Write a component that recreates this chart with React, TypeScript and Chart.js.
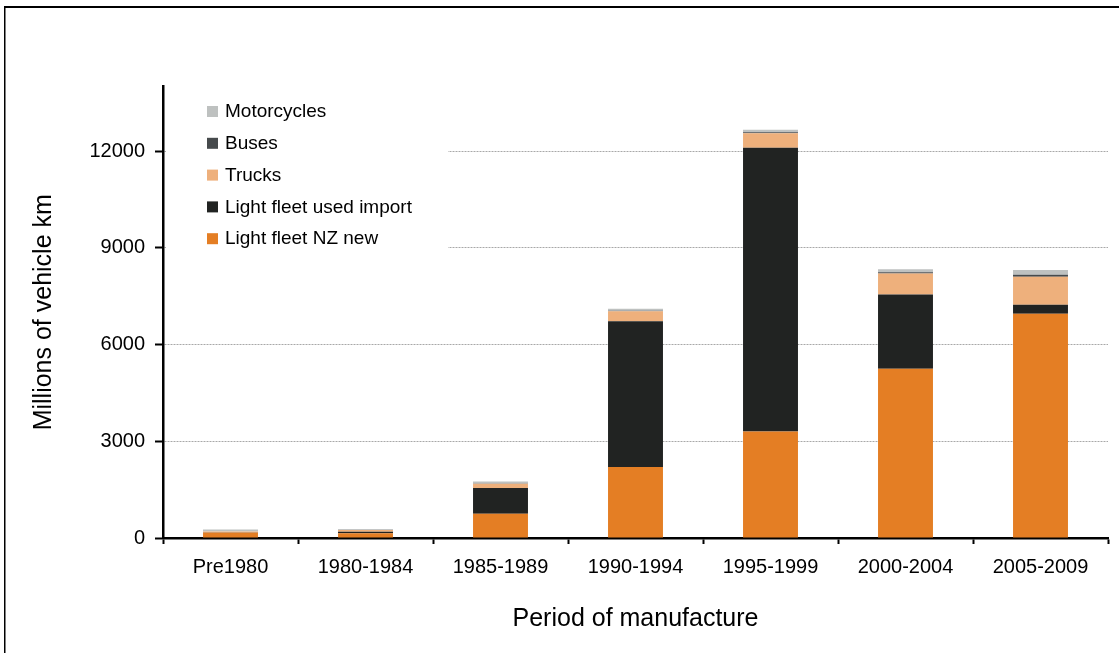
import React, { useEffect, useRef } from "react";
import { Chart, registerables } from "chart.js";

Chart.register(...registerables);

const categories = ["Pre1980", "1980-1984", "1985-1989", "1990-1994", "1995-1999", "2000-2004", "2005-2009"];
const nzNew = [170, 150, 750, 2200, 3300, 5250, 6950];
const usedImport = [10, 40, 800, 4520, 8800, 2300, 280];
const trucks = [20, 60, 130, 310, 450, 650, 870];
const buses = [5, 5, 10, 20, 30, 40, 60];
const motorcycles = [60, 10, 60, 60, 80, 90, 150];

const seriesNames = ["Light fleet NZ new", "Light fleet used import", "Trucks", "Buses", "Motorcycles"];
const seriesColors = ["#E47E24", "#212322", "#EEB07C", "#464A4C", "#BEC1C0"];
const yTickValues = [0, 3000, 6000, 9000, 12000];

const FONT = "'Liberation Sans', Arial, sans-serif";

const framePlugin = {
  id: "frame",
  beforeDraw(chart: any) {
    const ctx = chart.ctx;
    ctx.save();
    ctx.fillStyle = "#ffffff";
    ctx.fillRect(0, 0, chart.width, chart.height);
    ctx.fillStyle = "#000000";
    ctx.fillRect(4, 6, chart.width - 4, 2);
    ctx.fillRect(4, 6, 1.5, chart.height - 6);
    ctx.restore();
  },
};

const legendPlugin = {
  id: "customLegend",
  beforeDatasetsDraw(chart: any) {
    const ctx = chart.ctx;
    ctx.save();
    ctx.fillStyle = "#ffffff";
    ctx.fillRect(166, 90, 282, 170);
    const order = [4, 3, 2, 1, 0];
    ctx.font = `19px ${FONT}`;
    ctx.textBaseline = "middle";
    ctx.textAlign = "left";
    order.forEach((idx, i) => {
      const cy = 111 + i * 31.8;
      ctx.fillStyle = seriesColors[idx];
      ctx.fillRect(207, cy - 5, 11, 11);
      ctx.fillStyle = "#000000";
      ctx.fillText(seriesNames[idx], 225, cy + 1);
    });
    ctx.restore();
  },
};

export default function App() {
  const canvasRef = useRef<HTMLCanvasElement | null>(null);

  useEffect(() => {
    document.body.style.margin = "0";
    const canvas = canvasRef.current;
    if (!canvas) return;
    const dataArrays = [nzNew, usedImport, trucks, buses, motorcycles];
    const chart = new Chart(canvas, {
      type: "bar",
      data: {
        labels: categories,
        datasets: dataArrays.map((d, i) => ({
          label: seriesNames[i],
          data: d,
          backgroundColor: seriesColors[i],
          borderWidth: 0,
          categoryPercentage: 1,
          barPercentage: 0.407,
        })),
      },
      options: {
        responsive: false,
        animation: false,
        devicePixelRatio: 1,
        layout: { padding: { top: 86.5, right: 11, left: 0, bottom: 0 } },
        plugins: {
          legend: { display: false },
          tooltip: { enabled: false },
        },
        scales: {
          x: {
            stacked: true,
            offset: true,
            grid: {
              display: true,
              drawOnChartArea: false,
              drawTicks: true,
              tickLength: 6,
              tickColor: "#000000",
              tickWidth: 2,
              offset: true,
            },
            border: { display: true, color: "#000000", width: 2.5 },
            ticks: {
              color: "#000000",
              font: { family: FONT, size: 20 },
              padding: 11,
              maxRotation: 0,
            },
            title: {
              display: true,
              text: "Period of manufacture",
              color: "#000000",
              font: { family: FONT, size: 25 },
              padding: { top: 0, bottom: 19 },
            },
            afterFit(scale: any) {
              scale.height = 115;
            },
          },
          y: {
            stacked: true,
            min: 0,
            max: 14000,
            afterBuildTicks(scale: any) {
              scale.ticks = yTickValues.map((v) => ({ value: v }));
            },
            grid: {
              color: "#a8a8a8",
              lineWidth: 1,
              drawTicks: true,
              tickLength: 8,
              tickColor: "#000000",
              tickWidth: 2,
              tickBorderDash: [],
            },
            border: { display: true, color: "#000000", width: 2.5, dash: [2, 1] },
            ticks: {
              color: "#000000",
              font: { family: FONT, size: 20 },
              padding: 10,
              callback: (v: any) => String(v),
            },
            title: {
              display: true,
              text: "Millions of vehicle km",
              color: "#000000",
              font: { family: FONT, size: 25 },
              padding: { top: 29, bottom: 0 },
            },
            afterFit(scale: any) {
              scale.width = 163;
            },
          },
        },
      },
      plugins: [framePlugin, legendPlugin],
    });
    return () => chart.destroy();
  }, []);

  return (
    <div style={{ width: 1119, height: 653, position: "relative" }}>
      <canvas ref={canvasRef} width={1119} height={653} style={{ width: 1119, height: 653, display: "block" }} />
    </div>
  );
}
